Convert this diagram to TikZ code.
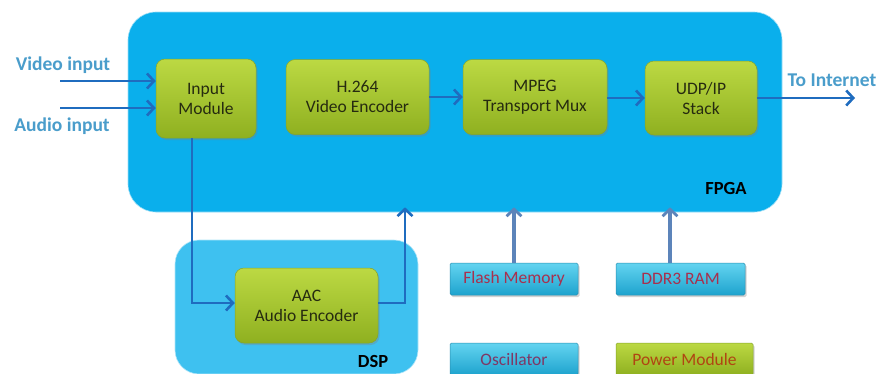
\documentclass[tikz,border=0pt]{standalone}
\usepackage{fontspec}
\setmainfont{Carlito}
\usetikzlibrary{arrows.meta,shadows}
\definecolor{fpgafill}{HTML}{0AAFEC}
\definecolor{dspfill}{HTML}{3EC1F0}
\definecolor{gtop}{HTML}{BCD943}
\definecolor{gbot}{HTML}{8FB020}
\definecolor{gline}{HTML}{86A52A}
\definecolor{ctop}{HTML}{63D4F0}
\definecolor{cbot}{HTML}{1EA3CE}
\definecolor{cline}{HTML}{2A8EB0}
\definecolor{sig}{HTML}{1F6CBF}
\definecolor{mem}{HTML}{5C84BA}
\definecolor{lbl}{HTML}{4A9DCB}
\definecolor{redtxt}{HTML}{A8304E}
\definecolor{purtxt}{HTML}{7E3866}
\definecolor{brtxt}{HTML}{B04512}
\definecolor{boxtxt}{HTML}{262B10}
\tikzset{
  bigbox/.style={fill=#1, draw=white!60!#1, line width=0.6pt, rounded corners=28pt, inner sep=0pt},
  gbox/.style={draw=gline, line width=0.5pt, top color=gtop, bottom color=gbot, rounded corners=9pt,
    drop shadow={opacity=0.35, shadow xshift=1.5pt, shadow yshift=-2pt},
    align=center, text=boxtxt, font=\fontsize{17.5}{20}\selectfont, inner sep=0pt},
  sbox/.style={draw=cline, line width=0.5pt, top color=ctop, bottom color=cbot, rounded corners=1.5pt,
    drop shadow={opacity=0.35, shadow xshift=1.5pt, shadow yshift=-2pt},
    font=\fontsize{17.5}{20}\selectfont, inner sep=0pt},
  sigarrow/.style={draw=sig, line width=2.8pt, -{Straight Barb[length=7pt,width=15pt,line width=2.6pt]}},
  memarrow/.style={draw=mem, line width=3.2pt, -{Straight Barb[length=7pt,width=15pt,line width=2.8pt]}},
  iolabel/.style={text=lbl, font=\fontsize{19.5}{22}\selectfont\bfseries},
  chiplabel/.style={text=black, font=\fontsize{18.5}{21}\selectfont\bfseries}
}
\begin{document}
\begin{tikzpicture}[x=1pt,y=-1pt]
\useasboundingbox[fill=white] (0,0) rectangle (879,373);
% containers
\node[bigbox=fpgafill, minimum width=654pt, minimum height=200pt] (fpga) at (455,112) {};
\node[bigbox=dspfill, rounded corners=24pt, minimum width=243pt, minimum height=134pt] (dsp) at (296.5,307) {};
\node[chiplabel] (fpgalbl) at (726,188) {FPGA};
\node[chiplabel] (dsplbl) at (373,361) {DSP};
% blocks
\node[gbox, minimum width=100pt, minimum height=79pt] (in) at (206,98.5) {Input\\Module};
\node[gbox, minimum width=143pt, minimum height=75pt] (h264) at (357.5,97) {H.264\\Video Encoder};
\node[gbox, minimum width=144pt, minimum height=75pt] (mpeg) at (535,97) {MPEG\\Transport Mux};
\node[gbox, minimum width=112pt, minimum height=74pt] (udp) at (701,98) {UDP/IP\\Stack};
\node[gbox, minimum width=143pt, minimum height=75pt] (aac) at (306.5,305.5) {AAC\\Audio Encoder};
\node[sbox, minimum width=128pt, minimum height=32pt, text=redtxt] (flash) at (514,279) {Flash Memory};
\node[sbox, minimum width=129pt, minimum height=32pt, text=redtxt] (ddr) at (680.5,279) {DDR3 RAM};
\node[sbox, minimum width=128pt, minimum height=32pt, text=purtxt] (osc) at (514,359) {Oscillator};
\node[gbox, rounded corners=1.5pt, minimum width=137pt, minimum height=32pt, text=brtxt] (pwr) at (684.5,359) {Power Module};
% io labels
\node[iolabel] (vinlbl) at (63,65) {Video input};
\node[iolabel] (ainlbl) at (62,126) {Audio input};
\node[iolabel] (netlbl) at (832,80) {To Internet};
\coordinate (vin) at (60,81);
\coordinate (ain) at (60,108);
\coordinate (net) at (855,98);
\coordinate (c1) at (192,303);
\coordinate (c2) at (405,303);
% connectors
\draw[sigarrow] (vin) -- (vin -| in.west);
\draw[sigarrow] (ain) -- (ain -| in.west);
\draw[sigarrow] (h264.east) -- (mpeg.west);
\draw[sigarrow] (mpeg.east |- udp) -- (udp.west);
\draw[sigarrow] (udp.east) -- (net);
\draw[sigarrow] (in.south -| c1) -- (c1) -- (c1 -| aac.west);
\draw[sigarrow, shorten >=-5pt] (aac.east |- c2) -- (c2) -- (c2 |- fpga.south);
\draw[memarrow, shorten >=-5pt] (flash.north) -- (flash.north |- fpga.south);
\draw[memarrow, shorten >=-5pt] (ddr.north -| 670,0) -- (670,0 |- fpga.south);
\end{tikzpicture}
\end{document}
